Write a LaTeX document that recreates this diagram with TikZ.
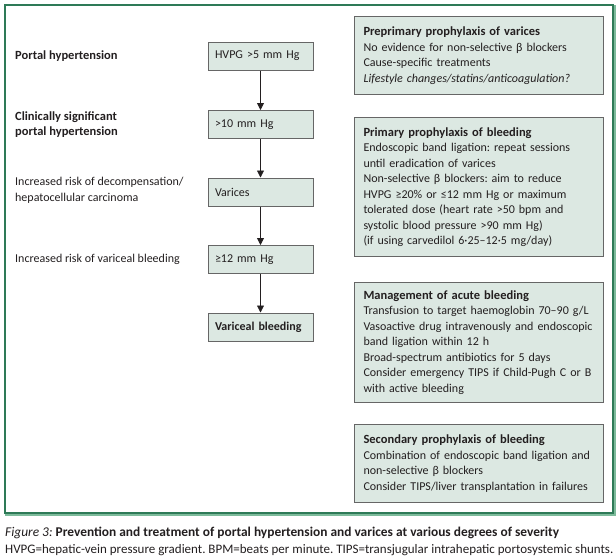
\documentclass[tikz,border=0pt]{standalone}
\usepackage{fontspec}
\setmainfont{Carlito}
\usetikzlibrary{arrows.meta}
\frenchspacing
\definecolor{framedark}{HTML}{2E7A57}
\definecolor{framelight}{HTML}{7DBB9B}
\definecolor{boxfill}{HTML}{DCE8E2}
\definecolor{boxline}{HTML}{666666}
\definecolor{txt}{HTML}{231F20}
\newcommand{\hd}[1]{{\fontsize{12.5}{15.5}\selectfont\bfseries #1}}
\tikzset{
  flowbox/.style={draw=boxline, fill=boxfill, line width=1pt, text width=91pt, inner xsep=7pt, inner ysep=0pt, minimum height=28pt, align=left},
  infobox/.style={draw=boxline, fill=boxfill, line width=1pt, text width=231pt, inner xsep=9pt, inner ysep=0pt, anchor=north west, align=left},
  lbl/.style={anchor=west, align=left, inner sep=0pt},
  flow/.style={draw=txt, line width=0.8pt, -{Triangle[width=7pt,length=7pt]}},
  captext/.style={anchor=west, inner sep=0pt, font=\fontsize{13}{15}\selectfont}
}
\begin{document}
\frenchspacing
\begin{tikzpicture}[x=1pt,y=-1pt, font=\fontsize{12}{15.5}\selectfont, text=txt]
\useasboundingbox (0,0) rectangle (616,558);
\fill[white] (0,0) rectangle (616,558);
% frame
\draw[framedark, line width=1.2pt] (5,5) rectangle (613,513);
\draw[framelight, line width=2pt] (614.5,5) -- (614.5,514.5) -- (5,514.5);
% left labels
\node[lbl, font=\fontsize{12.5}{15}\selectfont\bfseries] (l1) at (15,56) {Portal hypertension};
\node[lbl, font=\fontsize{12.5}{15}\selectfont\bfseries] (l2) at (15,124.5) {Clinically significant\\portal hypertension};
\node[lbl] (l3) at (15,190.5) {Increased risk of decompensation/\\hepatocellular carcinoma};
\node[lbl] (l4) at (15,259.5) {Increased risk of variceal bleeding};
% flow boxes
\node[flowbox] (b1) at (260.5,56) {HVPG >5 mm Hg};
\node[flowbox] (b2) at (260.5,124.5) {>10 mm Hg};
\node[flowbox] (b3) at (260.5,192) {Varices};
\node[flowbox] (b4) at (260.5,259.5) {≥12 mm Hg};
\node[flowbox, font=\fontsize{12}{15}\selectfont\bfseries] (b5) at (260.5,327) {\mbox{Variceal bleeding}};
\draw[flow] (b1) -- (b2);
\draw[flow] (b2) -- (b3);
\draw[flow] (b3) -- (b4);
\draw[flow] (b4) -- (b5);
% info boxes
\node[infobox, minimum height=78pt] (pa) at (354,16) {\hd{Preprimary prophylaxis of varices}\\
No evidence for non-selective β blockers\\
Cause-specific treatments\\
\textit{Lifestyle changes/statins/anticoagulation?}};
\node[infobox, minimum height=139pt] (pb) at (354,117) {\hd{Primary prophylaxis of bleeding}\\
Endoscopic band ligation: repeat sessions\\
until eradication of varices\\
Non-selective β blockers: aim to reduce\\
HVPG ≥20\% or ≤12 mm Hg or maximum\\
tolerated dose (heart rate >50 bpm and\\
systolic blood pressure >90 mm Hg)\\
(if using carvedilol 6·25–12·5 mg/day)};
\node[infobox, minimum height=120pt] (pc) at (354,282) {\hd{Management of acute bleeding}\\
Transfusion to target haemoglobin 70–90 g/L\\
Vasoactive drug intravenously and endoscopic\\
band ligation within 12 h\\
Broad-spectrum antibiotics for 5 days\\
Consider emergency TIPS if Child-Pugh C or B\\
with active bleeding};
\node[infobox, minimum height=78pt] (pd) at (354,424) {\hd{Secondary prophylaxis of bleeding}\\
Combination of endoscopic band ligation and\\
non-selective β blockers\\
Consider TIPS/liver transplantation in failures};
% caption
\node[captext, font=\fontsize{13.4}{15}\selectfont] (c1) at (5,533) {\textit{Figure 3:} \textbf{Prevention and treatment of portal hypertension and varices at various degrees of severity}};
\node[captext] (c2) at (5,550) {HVPG=hepatic-vein pressure gradient. BPM=beats per minute. TIPS=transjugular intrahepatic portosystemic shunts.};
\end{tikzpicture}
\end{document}
